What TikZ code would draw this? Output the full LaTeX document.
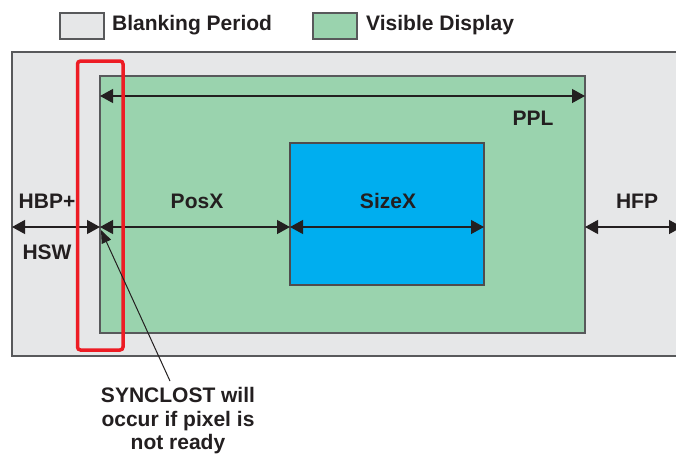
\documentclass[tikz,border=0pt]{standalone}
\usepackage{fontspec}
\setmainfont{Liberation Sans}
\usetikzlibrary{arrows.meta}
\definecolor{blankgray}{HTML}{E6E7E8}
\definecolor{visgreen}{HTML}{9AD3AE}
\definecolor{sizeblue}{HTML}{00AEEF}
\definecolor{warnred}{HTML}{ED1C24}
\definecolor{ink}{HTML}{231F20}
\definecolor{edge}{HTML}{58595B}
\begin{document}
\begin{tikzpicture}[x=1pt,y=-1pt,
  lbl/.style={font=\fontsize{21}{24}\selectfont\bfseries, text=ink, inner sep=0pt},
  dim/.style={draw=ink, line width=1.2pt, {Triangle[length=13pt,width=14pt]}-{Triangle[length=13pt,width=14pt]}},
  panel/.style={draw=edge, line width=1.4pt}]
\useasboundingbox (0,0) rectangle (676,456);
\fill[white] (0,0) rectangle (676,456);

% legend
\draw[panel, fill=blankgray] (60,13) rectangle (104,39);
\node[lbl, anchor=west] (lgBlank) at (112,25) {Blanking Period};
\draw[panel, fill=visgreen] (313,13) rectangle (357,39);
\node[lbl, anchor=west] (lgVisible) at (366,25) {Visible Display};

% frame regions
\draw[panel, line width=2pt, fill=blankgray] (12,52) rectangle (690,356);
\draw[panel, fill=visgreen] (100,76) rectangle (585,333);
\draw[draw=ink!80, line width=1.2pt, fill=sizeblue] (290,143) rectangle (484,285);

% dimension end points
\coordinate (pplL) at (100,96);
\coordinate (pplR) at (585,96);
\coordinate (hL) at (12,227);
\coordinate (vL) at (100,227);
\coordinate (bL) at (290,227);
\coordinate (bR) at (484,227);
\coordinate (vR) at (585,227);
\coordinate (hR) at (682,227);

\draw[dim] (pplL) -- (pplR);
\draw[dim] (hL) -- (vL);
\draw[dim] (vL) -- (bL);
\draw[dim] (bL) -- (bR);
\draw[dim] (vR) -- (hR);

% labels
\node[lbl] (ppl) at (533,118) {PPL};
\node[lbl] (hbp) at (47,201) {HBP+};
\node[lbl] (hsw) at (47,252) {HSW};
\node[lbl] (posx) at (197,201) {PosX};
\node[lbl] (sizex) at (388,201) {SizeX};
\node[lbl] (hfp) at (637,201) {HFP};

% sync-lost window
\draw[warnred, line width=3.5pt, rounded corners=3pt] (77.5,61) rectangle (123,350);

% note
\node[lbl, align=center, font=\fontsize{21}{23.5}\selectfont\bfseries] (note) at (178,421)
  {SYNCLOST will\\occur if pixel is\\not ready};
\coordinate (noteTip) at (170,381);
\coordinate (syncPt) at (101,230);
\draw[draw=ink, line width=1pt, -{Triangle[length=13pt,width=10pt]}] (noteTip) -- (syncPt);
\end{tikzpicture}
\end{document}
